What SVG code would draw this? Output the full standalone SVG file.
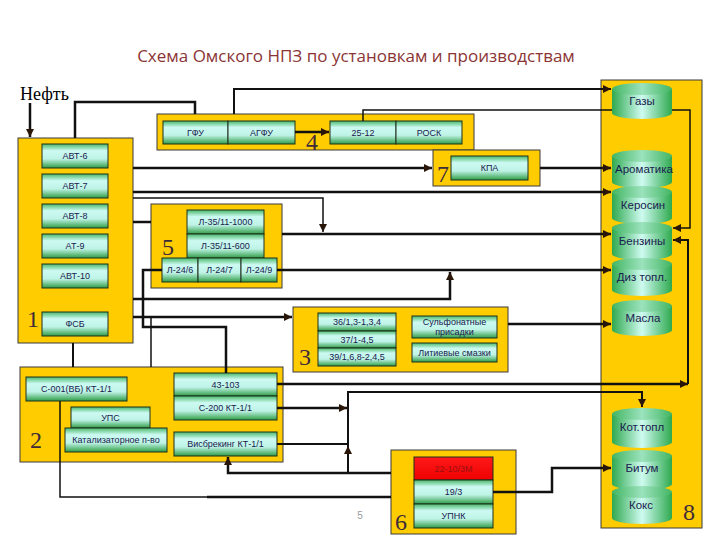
<svg xmlns="http://www.w3.org/2000/svg" width="720" height="540" viewBox="0 0 720 540">
<defs>
<linearGradient id="ug" x1="0" y1="0" x2="0" y2="1">
<stop offset="0" stop-color="#49b869"/>
<stop offset="0.28" stop-color="#ccfaf2"/>
<stop offset="0.62" stop-color="#bff3e6"/>
<stop offset="1" stop-color="#2e9c45"/>
</linearGradient>
<linearGradient id="cg" x1="0" y1="0" x2="1" y2="0">
<stop offset="0" stop-color="#2ea94e"/>
<stop offset="0.5" stop-color="#cffbf1"/>
<stop offset="1" stop-color="#2ea94e"/>
</linearGradient>
<linearGradient id="rg" x1="0" y1="0" x2="0" y2="1">
<stop offset="0" stop-color="#ff1a1a"/>
<stop offset="1" stop-color="#ee0000"/>
</linearGradient>
<marker id="ar" viewBox="0 0 8 8" refX="8" refY="4" markerWidth="8" markerHeight="8" markerUnits="userSpaceOnUse" orient="auto">
<path d="M0,0 L8,4 L0,8 z" fill="#2a1608"/>
</marker>
<style>
.b{fill:#ffcc00;stroke:#3a3a3a;stroke-width:1}
.u{fill:url(#ug);stroke:#1e2e1e;stroke-width:1}
.c{fill:url(#cg);stroke:none}
.e{fill:#5ec57c;fill-opacity:0.45;stroke:none}
.t{font-family:"Liberation Sans",Arial,sans-serif;font-size:9px;fill:#1a1a50;text-anchor:middle}
.ct{font-family:"Liberation Sans",Arial,sans-serif;font-size:11.5px;fill:#1a2050;text-anchor:middle}
.n{font-family:"Liberation Serif","Times New Roman",serif;font-size:24px;fill:#3d2b3a;text-anchor:middle}
.k{fill:none;stroke:#111;stroke-width:2.5}
.k2{fill:none;stroke:#111;stroke-width:2}
.k1{fill:none;stroke:#111;stroke-width:1.5}
</style>
</defs>
<rect width="720" height="540" fill="#fff"/>
<text x="356" y="62" font-family="'Open Sans','Liberation Sans',Arial,sans-serif" font-size="17" fill="#8b3434" text-anchor="middle">Схема Омского НПЗ по установкам и производствам</text>
<text x="20" y="100" font-family="'Liberation Serif','Times New Roman',serif" font-size="18" fill="#000">Нефть</text>

<g id="block8"><rect class="b" x="601" y="80" width="101" height="448"/><text class="n" x="689" y="520">8</text></g>

<g id="block1">
<rect class="b" x="18" y="138" width="115" height="205"/>
<text class="n" x="33" y="327">1</text>
<g id="avt6"><rect class="u" x="42" y="144" width="66" height="24"/><text class="t" x="75" y="159">АВТ-6</text></g>
<g id="avt7"><rect class="u" x="42" y="174" width="66" height="24"/><text class="t" x="75" y="189">АВТ-7</text></g>
<g id="avt8"><rect class="u" x="42" y="204" width="66" height="24"/><text class="t" x="75" y="219">АВТ-8</text></g>
<g id="at9"><rect class="u" x="42" y="234" width="66" height="24"/><text class="t" x="75" y="249">АТ-9</text></g>
<g id="avt10"><rect class="u" x="42" y="264" width="66" height="24"/><text class="t" x="75" y="279">АВТ-10</text></g>
<g id="fsb"><rect class="u" x="42" y="312" width="66" height="24"/><text class="t" x="75" y="327">ФСБ</text></g>
</g>

<g id="block4">
<rect class="b" x="157" y="114" width="317" height="36"/>
<text class="n" x="312" y="150">4</text>
<g id="gfu"><rect class="u" x="163" y="121" width="65" height="23"/><text class="t" x="195.5" y="135.5">ГФУ</text></g>
<g id="agfu"><rect class="u" x="228" y="121" width="67" height="23"/><text class="t" x="261.5" y="135.5">АГФУ</text></g>
<g id="u2512"><rect class="u" x="330" y="121" width="66" height="23"/><text class="t" x="363" y="135.5">25-12</text></g>
<g id="rosk"><rect class="u" x="396" y="121" width="66" height="23"/><text class="t" x="429" y="135.5">РОСК</text></g>
</g>

<g id="block7">
<rect class="b" x="433" y="150" width="107" height="36"/>
<text class="n" x="443" y="182">7</text>
<g id="kpa"><rect class="u" x="451" y="156" width="77" height="24"/><text class="t" x="489.5" y="171">КПА</text></g>
</g>

<g id="block5">
<rect class="b" x="151" y="204" width="131" height="84"/>
<text class="n" x="168" y="255">5</text>
<g id="l3511_1000"><rect class="u" x="187" y="210" width="77" height="24"/><text class="t" x="225.5" y="225">Л-35/11-1000</text></g>
<g id="l3511_600"><rect class="u" x="187" y="234" width="77" height="24"/><text class="t" x="225.5" y="249">Л-35/11-600</text></g>
<g id="l246"><rect class="u" x="162" y="258" width="36" height="24"/><text class="t" x="180" y="273">Л-24/6</text></g>
<g id="l247"><rect class="u" x="198" y="258" width="43" height="24"/><text class="t" x="219.5" y="273">Л-24/7</text></g>
<g id="l249"><rect class="u" x="241" y="258" width="36" height="24"/><text class="t" x="259" y="273">Л-24/9</text></g>
</g>

<g id="block3">
<rect class="b" x="293" y="307" width="215" height="65"/>
<text class="n" x="305" y="365">3</text>
<g id="u36"><rect class="u" x="318" y="313" width="78" height="18"/><text class="t" x="357" y="325">36/1,3-1,3,4</text></g>
<g id="u37"><rect class="u" x="318" y="331" width="78" height="17"/><text class="t" x="357" y="342.5">37/1-4,5</text></g>
<g id="u39"><rect class="u" x="318" y="348" width="78" height="18"/><text class="t" x="357" y="360">39/1,6,8-2,4,5</text></g>
<g id="sulf"><rect class="u" x="412" y="316" width="85" height="22"/><text class="t" x="454.5" y="325">Сульфонатные</text><text class="t" x="454.5" y="335">присадки</text></g>
<g id="lit"><rect class="u" x="412" y="343" width="85" height="19"/><text class="t" x="454.5" y="355.5">Литиевые смазки</text></g>
</g>

<g id="block2">
<rect class="b" x="20" y="367" width="263" height="95"/>
<text class="n" x="36" y="448">2</text>
<g id="s001"><rect class="u" x="26" y="377" width="101" height="24"/><text class="t" x="76.5" y="392">С-001(ВБ) КТ-1/1</text></g>
<g id="ups"><rect class="u" x="71" y="407" width="79" height="21"/><text class="t" x="110.5" y="420.5">УПС</text></g>
<g id="katal"><rect class="u" x="65" y="428" width="102" height="24"/><text class="t" x="116" y="443">Катализаторное п-во</text></g>
<g id="u43103"><rect class="u" x="174" y="373" width="103" height="23"/><text class="t" x="225.5" y="387.5">43-103</text></g>
<g id="s200"><rect class="u" x="174" y="396" width="103" height="24"/><text class="t" x="225.5" y="411">С-200 КТ-1/1</text></g>
<g id="visb"><rect class="u" x="174" y="432" width="103" height="24"/><text class="t" x="225.5" y="447">Висбрекинг КТ-1/1</text></g>
</g>

<g id="block6">
<rect class="b" x="391" y="450" width="125" height="84"/>
<text class="n" x="401" y="530">6</text>
<g id="u2210"><rect x="414" y="457" width="79" height="23" fill="url(#rg)" stroke="#1e2e1e" stroke-width="1"/><text class="t" x="453.5" y="471.5" style="fill:#9a1010">22-10/3М</text></g>
<g id="u193"><rect class="u" x="414" y="480" width="79" height="24"/><text class="t" x="453.5" y="495">19/3</text></g>
<g id="upnk"><rect class="u" x="414" y="504" width="79" height="24"/><text class="t" x="453.5" y="519">УПНК</text></g>
</g>

<g id="connectors">
<path class="k" d="M30,103 V137" marker-end="url(#ar)"/>
<path class="k" d="M75,138 V102 H195 V114"/>
<path class="k2" d="M234,114 V89 H611" marker-end="url(#ar)"/>
<path class="k" d="M295,132 H329" marker-end="url(#ar)"/>
<path class="k1" d="M363,121 V110 H690 V228 H673" marker-end="url(#ar)"/>
<path class="k" d="M133,168 H432" marker-end="url(#ar)"/>
<path class="k" d="M540,168 H611" marker-end="url(#ar)"/>
<path class="k" d="M133,192 H611" marker-end="url(#ar)"/>
<path class="k1" d="M133,198 H323 V232" marker-end="url(#ar)"/>
<path class="k" d="M133,222 H151"/>
<path class="k" d="M282,234 H611" marker-end="url(#ar)"/>
<path class="k" d="M277,270 H611" marker-end="url(#ar)"/>
<path class="k" d="M133,299 H450 V272" marker-end="url(#ar)"/>
<path class="k" d="M133,317 H292" marker-end="url(#ar)"/>
<path class="k" d="M508,324 H611" marker-end="url(#ar)"/>
<path class="k2" d="M73,343 V367"/>
<path class="k1" d="M151,317 V367"/>
<path class="k" d="M162,270 H143 V327 H226 V373"/>
<path class="k" d="M277,384 H688" marker-end="url(#ar)"/>
<path class="k2" d="M688,384 V240 H673" marker-end="url(#ar)"/>
<path class="k" d="M277,408 H347" marker-end="url(#ar)"/>
<path class="k2" d="M277,444 H348"/>
<path class="k2" d="M348,473 V446" marker-end="url(#ar)"/>
<path class="k2" d="M348,446 V392 H642 V407" marker-end="url(#ar)"/>
<path class="k" d="M391,473 H228 V457" marker-end="url(#ar)"/>
<path class="k1" d="M60,401 V497 H207"/>
<path class="k" d="M207,497 H391"/>
<path class="k" d="M493,492 H552 V468 H611" marker-end="url(#ar)"/>
</g>

<g id="gazy"><path class="c" d="M612,89 A30,6 0 0 1 672,89 V113 A30,6 0 0 1 612,113 Z"/><ellipse class="e" cx="642" cy="89" rx="30" ry="6"/><text class="ct" x="642" y="105">Газы</text></g>
<g id="aromatika"><path class="c" d="M612,156 A30,6 0 0 1 672,156 V182 A30,6 0 0 1 612,182 Z"/><ellipse class="e" cx="642" cy="156" rx="30" ry="6"/><text class="ct" x="644" y="173">Ароматика</text></g>
<g id="kerosin"><path class="c" d="M612,192 A30,6 0 0 1 672,192 V218 A30,6 0 0 1 612,218 Z"/><ellipse class="e" cx="642" cy="192" rx="30" ry="6"/><text class="ct" x="643" y="209">Керосин</text></g>
<g id="benziny"><path class="c" d="M612,228 A30,6 0 0 1 672,228 V254 A30,6 0 0 1 612,254 Z"/><ellipse class="e" cx="642" cy="228" rx="30" ry="6"/><text class="ct" x="642" y="245">Бензины</text></g>
<g id="diz"><path class="c" d="M612,264 A30,6 0 0 1 672,264 V290 A30,6 0 0 1 612,290 Z"/><ellipse class="e" cx="642" cy="264" rx="30" ry="6"/><text class="ct" x="642" y="281">Диз топл.</text></g>
<g id="masla"><path class="c" d="M612,306 A30,6 0 0 1 672,306 V330 A30,6 0 0 1 612,330 Z"/><ellipse class="e" cx="642" cy="306" rx="30" ry="6"/><text class="ct" x="643" y="322">Масла</text></g>
<g id="kottopl"><path class="c" d="M612,414 A30,6 0 0 1 672,414 V442 A30,6 0 0 1 612,442 Z"/><ellipse class="e" cx="642" cy="414" rx="30" ry="6"/><text class="ct" x="642" y="431">Кот.топл</text></g>
<g id="bitum"><path class="c" d="M612,456 A30,6 0 0 1 672,456 V484 A30,6 0 0 1 612,484 Z"/><ellipse class="e" cx="642" cy="456" rx="30" ry="6"/><text class="ct" x="642" y="472">Битум</text></g>
<g id="koks"><path class="c" d="M612,492 A30,6 0 0 1 672,492 V518 A30,6 0 0 1 612,518 Z"/><ellipse class="e" cx="642" cy="492" rx="30" ry="6"/><text class="ct" x="641" y="509">Кокс</text></g>

<text x="360" y="519" font-family="'Liberation Sans',Arial,sans-serif" font-size="10" fill="#999" text-anchor="middle">5</text>
</svg>
